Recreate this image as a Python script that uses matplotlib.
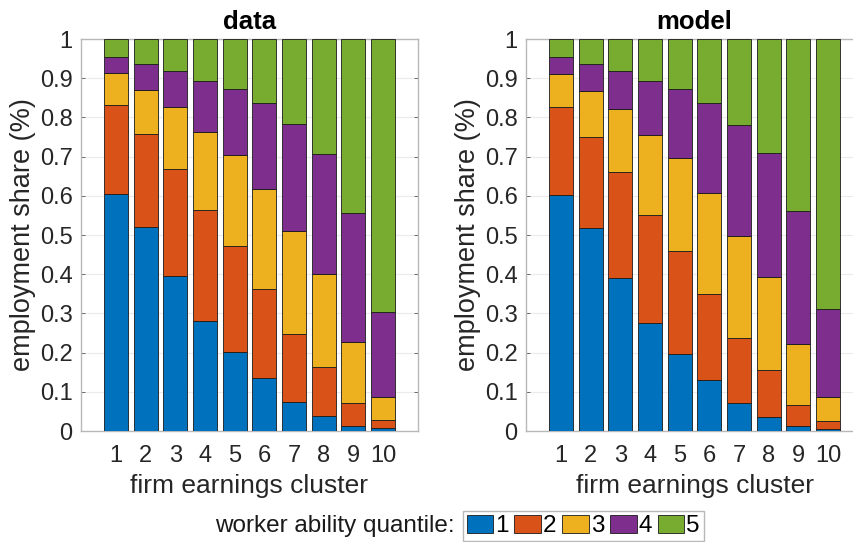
import matplotlib.pyplot as plt
import numpy as np
from matplotlib.patches import Patch

plt.rcParams['font.family'] = ['Liberation Sans', 'DejaVu Sans']

clusters = [1, 2, 3, 4, 5, 6, 7, 8, 9, 10]
quantiles = ['1', '2', '3', '4', '5']
colors = ['#0072BD', '#D95319', '#EDB120', '#7E2F8E', '#77AC30']

# cumulative tops of quantiles 1-4 (quantile 5 fills to 1)
data_cum = [
    [0.604, 0.520, 0.395, 0.281, 0.202, 0.134, 0.073, 0.038, 0.013, 0.007],
    [0.831, 0.757, 0.668, 0.563, 0.471, 0.362, 0.247, 0.164, 0.071, 0.028],
    [0.912, 0.871, 0.826, 0.764, 0.705, 0.618, 0.509, 0.401, 0.226, 0.088],
    [0.953, 0.936, 0.918, 0.892, 0.872, 0.837, 0.782, 0.706, 0.555, 0.303],
]
model_cum = [
    [0.603, 0.517, 0.390, 0.275, 0.196, 0.130, 0.071, 0.036, 0.013, 0.005],
    [0.826, 0.749, 0.660, 0.551, 0.459, 0.349, 0.237, 0.156, 0.066, 0.026],
    [0.910, 0.867, 0.821, 0.756, 0.696, 0.606, 0.498, 0.392, 0.222, 0.086],
    [0.955, 0.936, 0.918, 0.892, 0.872, 0.837, 0.781, 0.709, 0.561, 0.310],
]

yticks = np.arange(0, 1.01, 0.1)
ytick_labels = ['0', '0.1', '0.2', '0.3', '0.4', '0.5', '0.6', '0.7', '0.8', '0.9', '1']


def stacked(ax, cum, title):
    tops = np.vstack([np.array(cum), np.ones(len(clusters))])
    bottom = np.zeros(len(clusters))
    for i in range(len(quantiles)):
        h = tops[i] - bottom
        ax.bar(clusters, h, bottom=bottom, width=0.8, color=colors[i],
               edgecolor='#1a1a1a', linewidth=0.6, zorder=3)
        bottom = tops[i]
    ax.set_xlim(1 - 1.18, 10 + 1.18)
    ax.set_ylim(0, 1)
    ax.set_yticks(yticks)
    ax.set_yticklabels(ytick_labels)
    ax.set_xticks(clusters)
    ax.grid(axis='y', color='#ebebeb', linewidth=0.8, zorder=0)
    ax.tick_params(labelsize=17, labelcolor='#262626', color='#555555',
                   direction='in', length=3, top=True, right=True, width=0.6)
    ax.tick_params(axis='y', pad=6)
    ax.tick_params(axis='x', pad=10)
    for s in ax.spines.values():
        s.set_color('#b8b8b8')
        s.set_linewidth(1.0)
    ax.set_title(title, fontsize=18.5, fontweight='bold', pad=7)
    ax.set_xlabel('firm earnings cluster', fontsize=19, color='#262626', labelpad=5)
    ax.set_ylabel('employment share (%)', fontsize=19.5, color='#262626', labelpad=3)


fig = plt.figure(figsize=(8.54, 5.42), dpi=100)
ax1 = fig.add_axes([81 / 854, 1 - 431 / 542, 337 / 854, 392 / 542])
ax2 = fig.add_axes([526 / 854, 1 - 431 / 542, 337 / 854, 392 / 542])
stacked(ax1, data_cum, 'data')
stacked(ax2, model_cum, 'model')

handles = [Patch(facecolor=c, edgecolor='#1a1a1a', linewidth=0.6) for c in colors]
leg = fig.legend(handles, quantiles, ncol=5, loc='center left',
                 bbox_to_anchor=(463 / 854, 1 - 526 / 542), fontsize=17.5,
                 handlelength=1.1, handleheight=0.82, handletextpad=0.08,
                 columnspacing=0.23, borderpad=0.15, fancybox=False,
                 framealpha=1, edgecolor='#b8b8b8', borderaxespad=0)
leg.get_frame().set_linewidth(1.0)
fig.text(455 / 854, 1 - 526 / 542, 'worker ability quantile:', fontsize=17.5,
         ha='right', va='center', color='#1a1a1a')

fig.savefig('out.png', dpi=100)
